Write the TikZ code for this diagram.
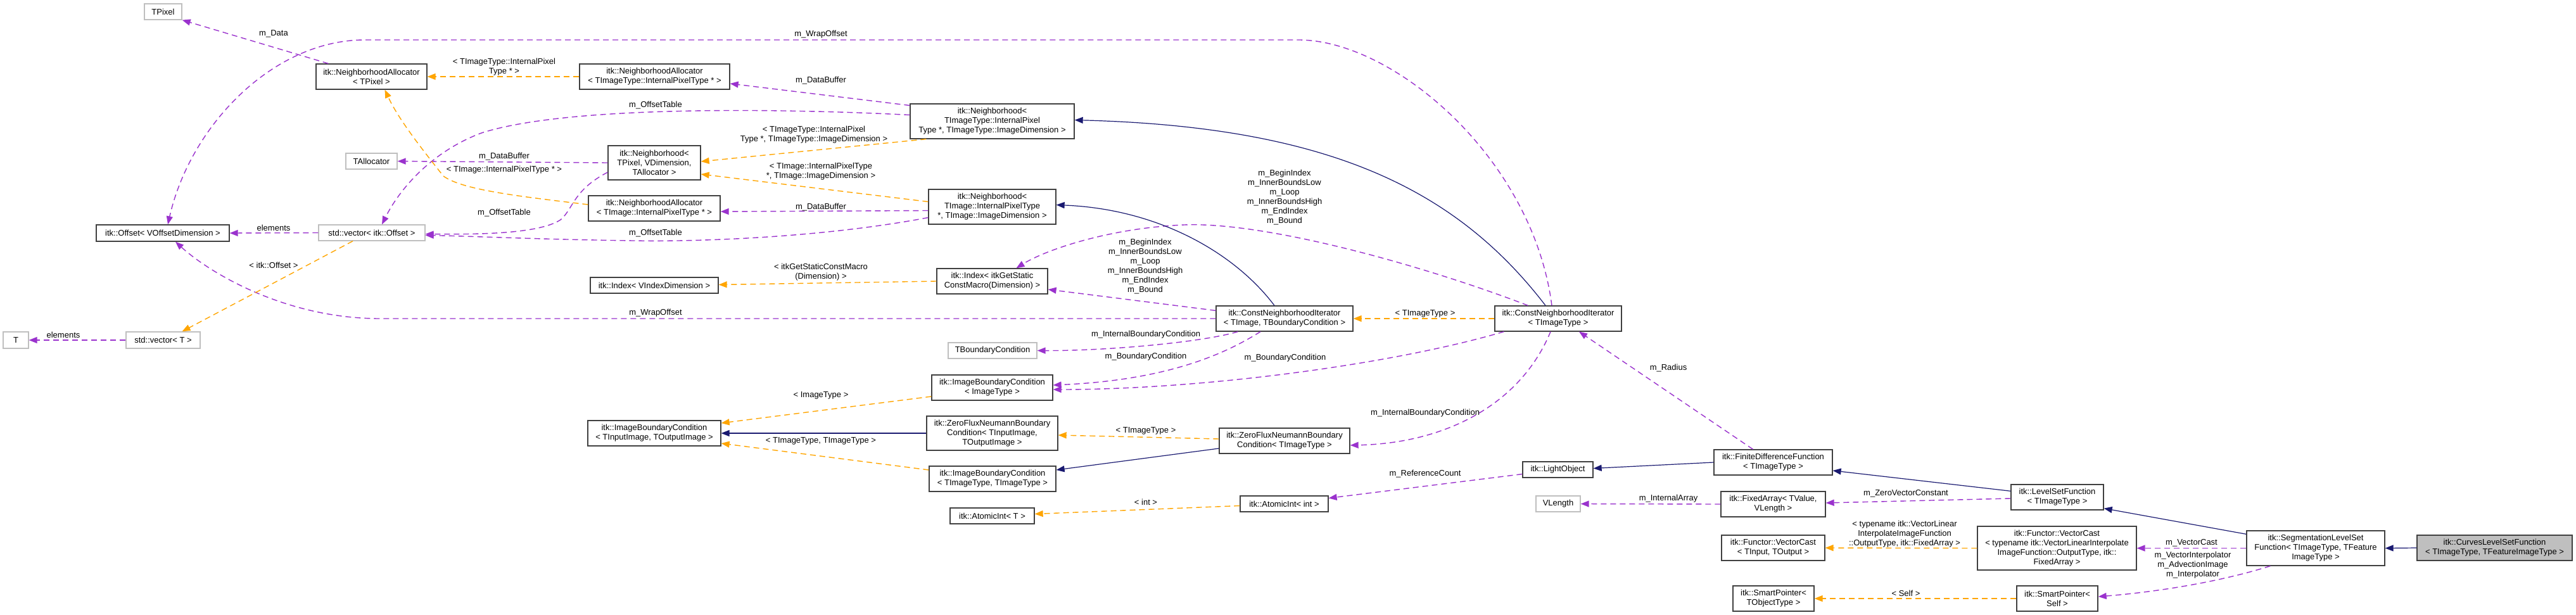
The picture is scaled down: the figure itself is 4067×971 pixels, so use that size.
\documentclass[tikz,border=0pt]{standalone}
\usepackage{fontspec}
\setmainfont{Liberation Sans}
\usetikzlibrary{arrows.meta,calc}
\definecolor{usec}{HTML}{9A32CD}
\definecolor{tmplc}{HTML}{FFA500}
\definecolor{inhc}{HTML}{191970}
\definecolor{bblack}{HTML}{404040}
\definecolor{bgray}{HTML}{BFBFBF}
\begin{document}
\begin{tikzpicture}[x=1pt,y=-1pt,
  every node/.style={font=\fontsize{13}{15}\selectfont},
  box/.style={draw=bblack,line width=1.3pt,fill=white,align=center,inner sep=1pt},
  gbox/.style={box,draw=bgray},
  lbl/.style={align=center,inner sep=0pt},
  use/.style={draw=usec,line width=1.4pt,dash pattern=on 9pt off 6pt,-{Triangle[length=13pt,width=10pt]}},
  tmpl/.style={draw=tmplc,line width=1.4pt,dash pattern=on 9pt off 6pt,-{Triangle[length=13pt,width=10pt]}},
  inh/.style={draw=inhc,line width=1.2pt,-{Triangle[length=13pt,width=10pt]}}]
\useasboundingbox (0,0) rectangle (4067,971);
\newcommand{\bx}[6]{\node[#1,minimum width=#4pt,minimum height=#5pt] (#6) at (#2,#3) {};}
% nodes
\node[gbox,minimum width=59pt,minimum height=25pt] (TPixel) at (257.5,18.5) {TPixel};
\node[box,minimum width=175pt,minimum height=40pt] (naP) at (586.5,121) {itk::NeighborhoodAllocator\\< TPixel >};
\node[gbox,minimum width=81pt,minimum height=25pt] (tAlloc) at (586.5,254.5) {TAllocator};
\node[box,minimum width=210pt,minimum height=26pt] (offset) at (257,368) {itk::Offset< VOffsetDimension >};
\node[gbox,minimum width=168pt,minimum height=25pt] (vecOff) at (587,367.5) {std::vector< itk::Offset >};
\node[gbox,minimum width=40pt,minimum height=26pt] (T) at (25,537) {T};
\node[gbox,minimum width=117pt,minimum height=26pt] (vecT) at (257.5,537) {std::vector< T >};
\node[box,minimum width=237pt,minimum height=40pt] (naTT) at (1033.5,121) {itk::NeighborhoodAllocator\\< TImageType::InternalPixelType * >};
\node[box,minimum width=146pt,minimum height=54pt] (nP) at (1033,257) {itk::Neighborhood<\\TPixel, VDimension,\\TAllocator >};
\node[box,minimum width=208pt,minimum height=40pt] (naTI) at (1033,329) {itk::NeighborhoodAllocator\\< TImage::InternalPixelType * >};
\node[box,minimum width=202pt,minimum height=25pt] (idxV) at (1033,450.5) {itk::Index< VIndexDimension >};
\node[box,minimum width=210pt,minimum height=40pt] (ibcIO) at (1033,684) {itk::ImageBoundaryCondition\\< TInputImage, TOutputImage >};
\node[box,minimum width=259pt,minimum height=55pt] (nTT) at (1566.5,191.5) {itk::Neighborhood<\\TImageType::InternalPixel\\Type *, TImageType::ImageDimension >};
\node[box,minimum width=201pt,minimum height=55pt] (nTI) at (1566.5,326.5) {itk::Neighborhood<\\TImage::InternalPixelType\\*, TImage::ImageDimension >};
\node[box,minimum width=175pt,minimum height=40pt] (idxG) at (1566.5,444) {itk::Index< itkGetStatic\\ConstMacro(Dimension) >};
\node[box,minimum width=216pt,minimum height=40pt] (cni) at (2028,503) {itk::ConstNeighborhoodIterator\\< TImage, TBoundaryCondition >};
\node[gbox,minimum width=140pt,minimum height=25pt] (tbc) at (1567,553.5) {TBoundaryCondition};
\node[box,minimum width=191pt,minimum height=40pt] (ibcI) at (1566.5,612) {itk::ImageBoundaryCondition\\< ImageType >};
\node[box,minimum width=207pt,minimum height=54pt] (zfIO) at (1566.5,684) {itk::ZeroFluxNeumannBoundary\\Condition< TInputImage,\\TOutputImage >};
\node[box,minimum width=200pt,minimum height=40pt] (ibcTT) at (1567,756) {itk::ImageBoundaryCondition\\< TImageType, TImageType >};
\node[box,minimum width=133pt,minimum height=25pt] (aiT) at (1566.5,814.5) {itk::AtomicInt< T >};
\node[box,minimum width=206pt,minimum height=40pt] (zfT) at (2028,696) {itk::ZeroFluxNeumannBoundary\\Condition< TImageType >};
\node[box,minimum width=139pt,minimum height=25pt] (aiInt) at (2027.5,795.5) {itk::AtomicInt< int >};
\node[box,minimum width=200pt,minimum height=40pt] (cniT) at (2460,503) {itk::ConstNeighborhoodIterator\\< TImageType >};
\node[box,minimum width=111pt,minimum height=25pt] (light) at (2459.5,741.5) {itk::LightObject};
\node[gbox,minimum width=70pt,minimum height=25pt] (vlen) at (2460,795.5) {VLength};
\node[box,minimum width=187pt,minimum height=40pt] (fdf) at (2799.5,730) {itk::FiniteDifferenceFunction\\< TImageType >};
\node[box,minimum width=165pt,minimum height=40pt] (fixed) at (2799.5,796) {itk::FixedArray< TValue,\\VLength >};
\node[box,minimum width=163pt,minimum height=40pt] (vcast) at (2799.5,865) {itk::Functor::VectorCast\\< TInput, TOutput >};
\node[box,minimum width=128pt,minimum height=40pt] (spT) at (2800,945) {itk::SmartPointer<\\TObjectType >};
\node[box,minimum width=146pt,minimum height=40pt] (lsf) at (3248,785) {itk::LevelSetFunction\\< TImageType >};
\node[box,minimum width=251pt,minimum height=69pt] (vcastT) at (3247.5,865.5) {itk::Functor::VectorCast\\< typename itk::VectorLinearInterpolate\\ImageFunction::OutputType, itk::\\FixedArray >};
\node[box,minimum width=128pt,minimum height=40pt] (spS) at (3248,945) {itk::SmartPointer<\\Self >};
\node[box,minimum width=218pt,minimum height=55pt] (seg) at (3656,865.5) {itk::SegmentationLevelSet\\Function< TImageType, TFeature\\ImageType >};
\node[box,fill=bgray,minimum width=245pt,minimum height=40pt] (curves) at (3938.5,865) {itk::CurvesLevelSetFunction\\< TImageType, TFeatureImageType >};
% coordinates for curves
\coordinate (wt1) at (2050,63); \coordinate (wt2) at (576,63);
\coordinate (wb1) at (600,503);
% purple usage edges
\draw[use] ($(naP.north west)+(20,0)$) -- (TPixel.south east);
\draw[use] ($(cniT.north)+(-10,0)$) .. controls (2420,250) and (2200,63) .. (wt1) -- (wt2) .. controls (430,63) and (300,200) .. ($(offset.north)+(8,0)$);
\draw[use] (cni.west) -- (wb1) .. controls (450,503) and (330,430) .. ($(offset.south)+(20,0)$);
\draw[use] ($(nTT.west)+(0,-25)$) -- ($(naTT.east)+(0,11)$);
\draw[use] ($(nTT.west)+(0,-10)$) .. controls (1250,172) and (900,165) .. (760,210) .. controls (680,240) and (630,300) .. ($(vecOff.north)+(16,0)$);
\draw[use] (nP.west) -- (tAlloc.east);
\draw[use] ($(nP.west)+(0,15)$) .. controls (905,300) and (905,330) .. (885,347) .. controls (850,370) and (750,370) .. ($(vecOff.east)+(0,2)$);
\draw[use] ($(nTI.west)+(0,6)$) -- ($(naTI.east)+(0,5)$);
\draw[use] ($(nTI.west)+(0,17)$) .. controls (1300,375) and (1100,382) .. (1000,380) .. controls (850,378) and (750,373) .. ($(vecOff.east)+(0,4)$);
\draw[use] ($(cni.north west)+(0,8)$) -- ($(idxG.east)+(0,13)$);
\draw[use] ($(cniT.north west)+(53,0)$) .. controls (2250,420) and (2000,350) .. (1870,355) .. controls (1750,360) and (1650,395) .. ($(idxG.north)+(38,0)$);
\draw[use] ($(cni.south west)+(35,0)$) .. controls (1900,540) and (1750,554) .. (tbc.east);
\draw[use] ($(cni.south)+(-38,0)$) .. controls (1940,555) and (1850,600) .. ($(ibcI.east)+(0,-4)$);
\draw[use] ($(cniT.south west)+(15,0)$) .. controls (2200,575) and (1900,615) .. ($(ibcI.east)+(0,3)$);
\draw[use] ($(cniT.south)+(-12,0)$) .. controls (2400,640) and (2280,700) .. ($(zfT.east)+(0,7)$);
\draw[use] ($(fdf.north)+(-32,0)$) -- ($(cniT.south)+(33,0)$);
\draw[use] ($(light.west)+(0,7)$) -- ($(aiInt.east)+(0,-9)$);
\draw[use] (fixed.west) -- (vlen.east);
\draw[use] ($(lsf.west)+(0,2)$) -- ($(fixed.east)+(0,-2)$);
\draw[use] (seg.west) -- (vcastT.east);
\draw[use] ($(seg.south west)+(38,0)$) .. controls (3500,920) and (3400,935) .. ($(spS.east)+(0,-3)$);
\draw[use] (vecOff.west) -- (offset.east);
\draw[use] (vecT.west) -- (T.east);
% orange template edges
\draw[tmpl] (naTT.west) -- (naP.east);
\draw[tmpl] ($(naTI.west)+(0,-6)$) .. controls (820,310) and (730,300) .. (700,278) .. controls (670,240) and (630,190) .. ($(naP.south)+(21,0)$);
\draw[tmpl] ($(nTT.south west)+(26,0)$) -- ($(nP.east)+(0,-2)$);
\draw[tmpl] ($(nTI.west)+(0,-8)$) -- ($(nP.east)+(0,18)$);
\draw[tmpl] (idxG.west) -- ($(idxV.east)+(0,-1)$);
\draw[tmpl] (cniT.west) -- (cni.east);
\draw[tmpl] ($(ibcI.west)+(0,14)$) -- ($(ibcIO.east)+(0,-16)$);
\draw[tmpl] ($(ibcTT.west)+(0,-14)$) -- ($(ibcIO.east)+(0,16)$);
\draw[tmpl] ($(zfT.west)+(0,-3)$) -- ($(zfIO.east)+(0,3)$);
\draw[tmpl] ($(aiInt.west)+(0,3)$) -- ($(aiT.east)+(0,-3)$);
\draw[tmpl] ($(vecOff.south)+(-30,0)$) -- ($(vecT.north)+(30,0)$);
\draw[tmpl] (vcastT.west) -- (vcast.east);
\draw[tmpl] (spS.west) -- (spT.east);
% navy inheritance edges
\draw[inh] ($(cniT.north)+(-20,0)$) .. controls (2300,300) and (2100,200) .. ($(nTT.east)+(0,-2)$);
\draw[inh] ($(cni.north)+(-16,0)$) .. controls (1950,400) and (1830,330) .. ($(nTI.east)+(0,-3)$);
\draw[inh] (zfIO.west) -- (ibcIO.east);
\draw[inh] ($(zfT.west)+(0,12)$) -- ($(ibcTT.east)+(0,-14)$);
\draw[inh] (fdf.west) -- ($(light.east)+(0,-2)$);
\draw[inh] ($(lsf.north west)+(0,11)$) -- ($(fdf.east)+(0,13)$);
\draw[inh] ($(seg.north west)+(0,6)$) -- ($(lsf.south east)+(0,-3)$);
\draw[inh] (curves.west) -- (seg.east);
% labels
\node[lbl] (l1) at (432,53) {m\_Data};
\node[lbl] (l2) at (1296,54) {m\_WrapOffset};
\node[lbl] (l3) at (796,106) {< TImageType::InternalPixel\\Type * >};
\node[lbl] (l4) at (1296,127) {m\_DataBuffer};
\node[lbl] (l5) at (1035,166) {m\_OffsetTable};
\node[lbl] (l6) at (1285,213) {< TImageType::InternalPixel\\Type *, TImageType::ImageDimension >};
\node[lbl] (l7) at (796,247) {m\_DataBuffer};
\node[lbl] (l8) at (796,268) {< TImage::InternalPixelType * >};
\node[lbl] (l9) at (1296,271) {< TImage::InternalPixelType\\*, TImage::ImageDimension >};
\node[lbl] (l10) at (1296,327) {m\_DataBuffer};
\node[lbl] (l11) at (796,336) {m\_OffsetTable};
\node[lbl] (l12) at (1035,368) {m\_OffsetTable};
\node[lbl] (l13) at (1296,430) {< itkGetStaticConstMacro\\(Dimension) >};
\node[lbl] (l14) at (1035,494) {m\_WrapOffset};
\node[lbl] (l15) at (432,360) {elements};
\node[lbl] (l16) at (432,419) {< itk::Offset >};
\node[lbl] (l17) at (100,529) {elements};
\node[lbl] (l18) at (2028,312) {m\_BeginIndex\\m\_InnerBoundsLow\\m\_Loop\\m\_InnerBoundsHigh\\m\_EndIndex\\m\_Bound};
\node[lbl] (l19) at (1808,421) {m\_BeginIndex\\m\_InnerBoundsLow\\m\_Loop\\m\_InnerBoundsHigh\\m\_EndIndex\\m\_Bound};
\node[lbl] (l20) at (1809,528) {m\_InternalBoundaryCondition};
\node[lbl] (l21) at (1809,563) {m\_BoundaryCondition};
\node[lbl] (l22) at (2029,565) {m\_BoundaryCondition};
\node[lbl] (l23) at (1809,680) {< TImageType >};
\node[lbl] (l24) at (1809,793) {< int >};
\node[lbl] (l25) at (1296,624) {< ImageType >};
\node[lbl] (l26) at (1296,696) {< TImageType, TImageType >};
\node[lbl] (l27) at (2250,495) {< TImageType >};
\node[lbl] (l28) at (2634,581) {m\_Radius};
\node[lbl] (l29) at (2250,652) {m\_InternalBoundaryCondition};
\node[lbl] (l30) at (2250,748) {m\_ReferenceCount};
\node[lbl] (l31) at (2634,787) {m\_InternalArray};
\node[lbl] (l32) at (3009,779) {m\_ZeroVectorConstant};
\node[lbl] (l33) at (3007,843) {< typename itk::VectorLinear\\InterpolateImageFunction\\::OutputType, itk::FixedArray >};
\node[lbl] (l34) at (3009,937) {< Self >};
\node[lbl] (l35) at (3460,857) {m\_VectorCast};
\node[lbl] (l36) at (3462,892) {m\_VectorInterpolator\\m\_AdvectionImage\\m\_Interpolator};
\end{tikzpicture}
\end{document}
